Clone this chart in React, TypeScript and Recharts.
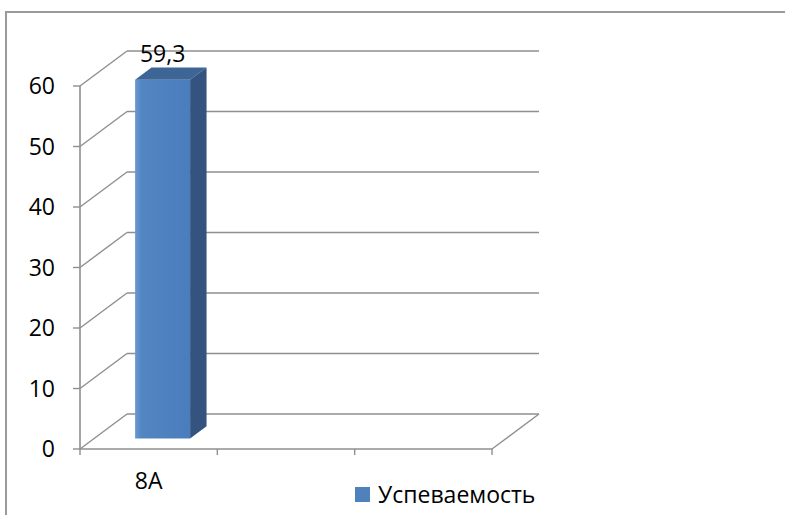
import { BarChart, Bar, XAxis, YAxis, CartesianGrid, Legend, LabelList } from 'recharts';

const categories = ['8A', '', ''];
const performance: (number | null)[] = [59.3, null, null];
const yTicks = [0, 10, 20, 30, 40, 50, 60];
const seriesName = 'Успеваемость';

const data = categories.map((name, i) => ({ name, value: performance[i] }));

const W = 785;
const H = 515;
const margin = { top: 86, right: 293, bottom: 6, left: 5 };
const Y_W = 75;
const X_H = 60;
const BAND = (W - margin.left - Y_W - margin.right) / categories.length;

// depth of the 3d box (back wall offset)
const DX = 47;
const DY = -35;
const FRONT = 0.3;
const BACK = 0.65;

const FONT = '"Open Sans", sans-serif';
const GRID = '#8f8f8f';
const BLUE = '#4F81BD';

const gridLine = (p: any) => {
  const { x1, x2, y1, index } = p;
  const bx1 = x1 + DX;
  const bx2 = x2 + DX;
  const by = y1 + DY;
  const isFloor = index === 0 || Math.abs(y1 - (H - margin.bottom - X_H)) < 0.5;
  return (
    <g key={`g-${y1}`}>
      <line x1={x1} y1={y1} x2={bx1} y2={by} stroke={GRID} strokeWidth={1.4} />
      <line x1={bx1} y1={by} x2={bx2} y2={by} stroke={GRID} strokeWidth={1.6} />
      {isFloor && Math.abs(y1 - (H - margin.bottom - X_H)) < 0.5 && (
        <line x1={x2} y1={y1} x2={bx2} y2={by} stroke={GRID} strokeWidth={1.4} />
      )}
    </g>
  );
};

const Bar3D = (p: any) => {
  const { x, y, width, height, value } = p;
  if (value == null || !height || height <= 0) return <g />;
  const fx = x + DX * FRONT;
  const fy = y + DY * FRONT;
  const sx = DX * (BACK - FRONT);
  const sy = DY * (BACK - FRONT);
  return (
    <g>
      <defs>
        <linearGradient id="barFront" x1="0" y1="0" x2="1" y2="0">
          <stop offset="0%" stopColor="#6a98d0" />
          <stop offset="12%" stopColor="#5285c2" />
          <stop offset="100%" stopColor="#4A7DBB" />
        </linearGradient>
      </defs>
      <rect x={fx} y={fy} width={width} height={height} fill="url(#barFront)" />
      <polygon
        points={`${fx},${fy} ${fx + sx},${fy + sy} ${fx + width + sx},${fy + sy} ${fx + width},${fy}`}
        fill="#3D6697"
      />
      <polygon
        points={`${fx + width},${fy} ${fx + width + sx},${fy + sy} ${fx + width + sx},${fy + height + sy} ${fx + width},${fy + height}`}
        fill="#34547F"
      />
    </g>
  );
};

const ValueLabel = (p: any) => {
  const { x, y, width, value } = p;
  if (value == null) return null;
  return (
    <text
      x={x + DX * FRONT + width / 2}
      y={y + DY * FRONT - 18}
      textAnchor="middle"
      fontFamily={FONT}
      fontSize={23}
      fill="#000"
    >
      {String(value).replace('.', ',')}
    </text>
  );
};

const CategoryTick = (p: any) => {
  const { x, y, payload, index } = p;
  const left = x - BAND / 2;
  const right = x + BAND / 2;
  return (
    <g>
      <line x1={left} y1={y} x2={left} y2={y + 6} stroke={GRID} strokeWidth={1.4} />
      {index === categories.length - 1 && (
        <line x1={right} y1={y} x2={right} y2={y + 6} stroke={GRID} strokeWidth={1.4} />
      )}
      <text x={x} y={y + 40} textAnchor="middle" fontFamily={FONT} fontSize={23} fill="#000">
        {payload.value}
      </text>
    </g>
  );
};

const LegendBox = () => (
  <div style={{ display: 'flex', alignItems: 'center', fontFamily: FONT, fontSize: 23, color: '#000', whiteSpace: 'nowrap' }}>
    <span style={{ display: 'inline-block', width: 15, height: 15, background: BLUE, marginRight: 8 }} />
    {seriesName}
  </div>
);

export default function App() {
  return (
    <div style={{ position: 'absolute', left: 0, top: 0, width: W, height: H, overflow: 'hidden', background: '#fff' }}>
      <div
        style={{
          position: 'absolute',
          left: 5,
          top: 11,
          width: 900,
          height: 600,
          border: '2px solid #9a9a9a',
        }}
      />
      <div style={{ position: 'absolute', left: 0, top: 0 }}>
        <BarChart width={W} height={H} data={data} margin={margin} barSize={55}>
          <CartesianGrid vertical={false} horizontal={gridLine} />
          <XAxis
            dataKey="name"
            height={X_H}
            axisLine={{ stroke: GRID, strokeWidth: 1.6 }}
            tickLine={false}
            tickSize={0}
            tickMargin={0}
            tick={CategoryTick}
            interval={0}
          />
          <YAxis
            width={Y_W}
            domain={[0, 60]}
            ticks={yTicks}
            interval={0}
            axisLine={{ stroke: GRID, strokeWidth: 1.6 }}
            tickLine={{ stroke: GRID, strokeWidth: 1.4 }}
            tickSize={7}
            tickMargin={18}
            tick={{ fontFamily: FONT, fontSize: 23, fill: '#000' }}
          />
          <Legend
            layout="horizontal"
            verticalAlign="middle"
            align="center"
            content={LegendBox}
            wrapperStyle={{ position: 'absolute', left: 355, top: 478, width: 'auto', height: 'auto' }}
          />
          <Bar dataKey="value" name={seriesName} fill={BLUE} shape={Bar3D} isAnimationActive={false}>
            <LabelList dataKey="value" content={ValueLabel} />
          </Bar>
        </BarChart>
      </div>
    </div>
  );
}
